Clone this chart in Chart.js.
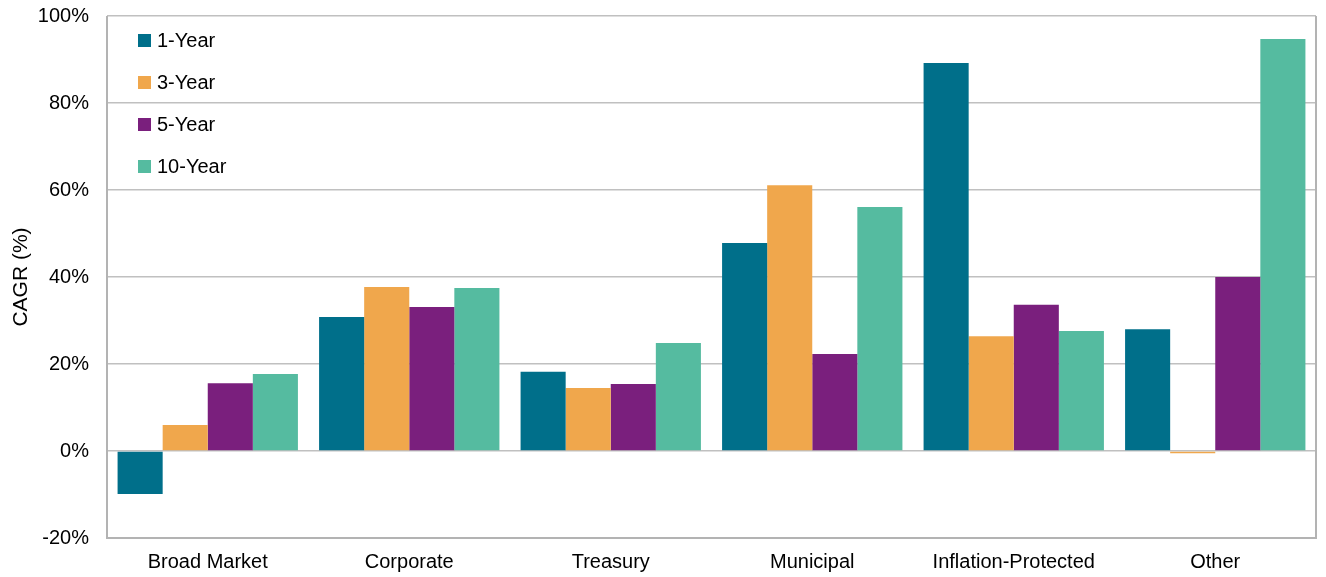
<!DOCTYPE html>
<html><head><meta charset="utf-8">
<script src="https://cdn.jsdelivr.net/npm/chart.js@4/dist/chart.umd.min.js"></script>
<style>
html,body{margin:0;padding:0;background:#fff;overflow:hidden;}
#wrap{position:relative;width:1326px;height:577px;overflow:hidden;}
#c{position:absolute;left:0;top:-14px;}
#legend{position:absolute;left:138px;top:29px;font-family:"Liberation Sans",Arial,sans-serif;font-size:20px;color:#000;}
#legend div{height:42px;line-height:22px;display:flex;align-items:flex-start;}
#legend span.box{display:inline-block;width:13px;height:13px;margin-right:6px;margin-top:5px;}
</style></head>
<body><div id="wrap"><canvas id="c" width="1326" height="591"></canvas><div id="legend"></div></div>
<script>
const categories = ["Broad Market","Corporate","Treasury","Municipal","Inflation-Protected","Other"];
const seriesNames = ["1-Year","3-Year","5-Year","10-Year"];
const oneYear = [-9.9, 30.8, 18.2, 47.8, 89.2, 28.0];
const threeYear = [6.0, 37.7, 14.5, 61.1, 26.4, -0.5];
const fiveYear = [15.6, 33.1, 15.4, 22.3, 33.6, 40.0];
const tenYear = [17.7, 37.5, 24.8, 56.1, 27.6, 94.7];
const colors = ["#006F8A","#F0A74C","#7A1F7D","#55BBA0"];
const yTitle = "CAGR (%)";

const values = [oneYear, threeYear, fiveYear, tenYear];
const FONT = "'Liberation Sans', Arial, sans-serif";

const lg = document.getElementById('legend');
seriesNames.forEach((n,i)=>{
  const d=document.createElement('div');
  d.innerHTML='<span class="box" style="background:'+colors[i]+'"></span><span>'+n+'</span>';
  lg.appendChild(d);
});

const frame = {
  id:'frame',
  afterDatasetsDraw(chart){
    const {ctx, chartArea:a} = chart;
    ctx.save();
    ctx.strokeStyle='#B3B3B3';
    ctx.lineWidth=2;
    ctx.beginPath();
    ctx.moveTo(a.left, a.top); ctx.lineTo(a.left, a.bottom); ctx.lineTo(a.right, a.bottom); ctx.lineTo(a.right, a.top);
    ctx.stroke();
    ctx.restore();
  }
};

new Chart(document.getElementById('c'), {
  type:'bar',
  data:{
    labels:categories,
    datasets: seriesNames.map((n,i)=>({label:n, data:values[i], backgroundColor:colors[i], borderWidth:0,
      categoryPercentage:0.895, barPercentage:1.0}))
  },
  options:{
    responsive:false, animation:false,
    layout:{padding:{top:2,right:10,left:0,bottom:0}},
    plugins:{legend:{display:false}, tooltip:{enabled:false}},
    scales:{
      x:{
        grid:{display:false, drawTicks:false},
        border:{display:false},
        ticks:{font:{family:FONT,size:20}, color:'#000', padding:12, maxRotation:0},
        afterFit(s){ s.height = 39; }
      },
      y:{
        min:-20, max:100,
        grid:{color:'#C0C0C0', lineWidth:1.5, drawTicks:false},
        border:{display:false},
        ticks:{stepSize:20, font:{family:FONT,size:20}, color:'#000', padding:18,
          callback:v=>v+'%'},
        title:{display:true, text:yTitle, font:{family:FONT,size:21}, color:'#000', padding:{top:9,bottom:0}},
        afterFit(s){ s.width = 107; }
      }
    }
  },
  plugins:[frame]
});
</script></body></html>
